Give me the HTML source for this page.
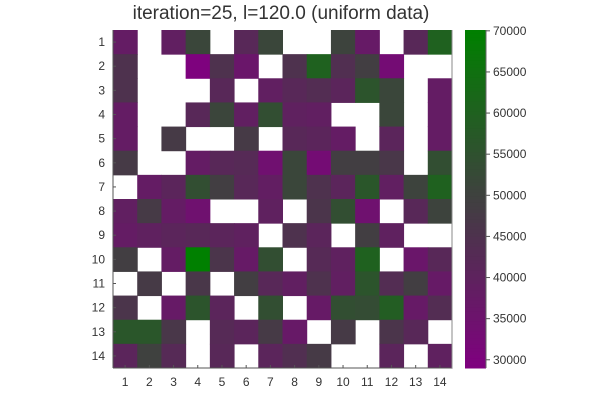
<!DOCTYPE html>
<html><head><meta charset="utf-8"><style>
html,body{margin:0;padding:0;background:#fff;width:600px;height:400px;overflow:hidden}
svg{display:block;font-family:"Liberation Sans",sans-serif}
</style></head><body>
<svg id="chart" width="600" height="400">
<text x="281" y="19" text-anchor="middle" font-size="19" fill="#333">iteration=25, l=120.0 (uniform data)</text>
<g id="cells"></g>
<g id="axes"></g>
<g id="cbar"></g>
</svg>
<script>
const xLabels = [1,2,3,4,5,6,7,8,9,10,11,12,13,14];
const yLabels = [1,2,3,4,5,6,7,8,9,10,11,12,13,14];
const N = null;
const row1  = [38000,N,39000,51500,N,42000,51500,N,N,50500,37500,N,42000,60000];
const row2  = [45000,N,N,29500,45000,36000,N,45000,60000,44000,49000,33000,N,N];
const row3  = [45000,N,N,N,42000,N,39000,42000,43500,41000,56000,51500,N,38000];
const row4  = [38000,N,N,42000,51000,39000,54000,39500,39000,N,N,51500,N,38000];
const row5  = [38000,N,47500,N,N,47500,N,42000,41000,38000,N,41000,N,38000];
const row6  = [47500,N,N,38000,42000,42500,34000,51500,33000,49000,49000,46500,N,54000];
const row7  = [N,38000,41000,54000,49000,42000,38500,51500,45000,41000,56500,39000,50500,60000];
const row8  = [39000,47500,38000,34500,N,N,39500,N,46000,54000,34500,N,42000,50500];
const row9  = [38000,39500,41000,42000,41000,39500,N,45000,41000,N,49000,39500,N,N];
const row10 = [49000,N,38000,70000,46000,37500,54000,N,42500,39500,60000,N,36000,42000];
const row11 = [N,47500,N,46500,N,49000,42000,39000,45000,39000,56000,43500,49000,37500];
const row12 = [46000,N,37500,56000,41000,N,54000,N,37500,54000,53500,59000,37500,43500];
const row13 = [56500,56500,46500,N,42500,41000,47500,37000,N,47500,N,46000,42000,N];
const row14 = [41000,50000,42500,N,42000,N,41000,44000,47500,N,N,41000,N,39500];
const values = [row1,row2,row3,row4,row5,row6,row7,row8,row9,row10,row11,row12,row13,row14];
const cbTicks = [30000,35000,40000,45000,50000,55000,60000,65000,70000];
const vmin = 29000, vmax = 70100;

const NS = "http://www.w3.org/2000/svg";
const X0=113, X1=452, Y0=30, Y1=368;
const cw=(X1-X0)/xLabels.length, ch=(Y1-Y0)/yLabels.length;
const xScale = i => X0 + i*cw;
const yScale = j => Y0 + j*ch;
function color(v){
  let t=(v-vmin)/(vmax-vmin); t=Math.max(0,Math.min(1,t));
  const p=Math.round(128*(1-t)), g=Math.round(128*t);
  return `rgb(${p},${g},${p})`;
}
function mk(tag, attrs, parent){
  const e=document.createElementNS(NS,tag);
  for(const k in attrs) e.setAttribute(k, attrs[k]);
  parent.appendChild(e); return e;
}
const cells=document.getElementById('cells');
values.forEach((row,j)=>row.forEach((v,i)=>{
  if(v===null) return;
  const r=mk('rect',{x:xScale(i),y:yScale(j),width:cw+0.5,height:ch+0.5,fill:color(v)},cells);
  
  
}));
const axes=document.getElementById('axes');
mk('line',{x1:X0,y1:Y0,x2:X0,y2:Y1,stroke:'#555','stroke-width':1},axes);
mk('line',{x1:X0,y1:Y1,x2:X1,y2:Y1,stroke:'#555','stroke-width':1},axes);
mk('line',{x1:X1,y1:Y0,x2:X1,y2:Y1,stroke:'#888','stroke-width':1},axes);
xLabels.forEach((l,i)=>{
  const cx=xScale(i)+cw/2;
  mk('line',{x1:cx,y1:Y1,x2:cx,y2:Y1-3,stroke:'#555'},axes);
  const t=mk('text',{x:cx,y:Y1+18,'text-anchor':'middle','font-size':12,fill:'#333'},axes);
  t.textContent=l;
  
  
});
yLabels.forEach((l,j)=>{
  const cy=yScale(j)+ch/2;
  mk('line',{x1:X0,y1:cy,x2:X0+3,y2:cy,stroke:'#555'},axes);
  const t=mk('text',{x:X0-8,y:cy+4,'text-anchor':'end','font-size':12,fill:'#333'},axes);
  t.textContent=l;
  
  
});
const cb=document.getElementById('cbar');
const CX0=465, CX1=486;
const cbY = v => Y1 - (v-vmin)/(vmax-vmin)*(Y1-Y0);
for(let k=0;k<100;k++){
  const v0=vmin+(vmax-vmin)*k/100, v1=vmin+(vmax-vmin)*(k+1)/100;
  mk('rect',{x:CX0,y:cbY(v1),width:CX1-CX0,height:cbY(v0)-cbY(v1)+0.5,fill:color((v0+v1)/2)},cb);
}
mk('line',{x1:CX1,y1:Y0,x2:CX1,y2:Y1,stroke:'#666'},cb);
cbTicks.forEach(v=>{
  const y=cbY(v);
  mk('line',{x1:CX1,y1:y,x2:CX1+4,y2:y,stroke:'#555'},cb);
  const t=mk('text',{x:CX1+7,y:y+4,'font-size':12,fill:'#333'},cb);
  t.textContent=v;
  
  
});
</script>
</body></html>
